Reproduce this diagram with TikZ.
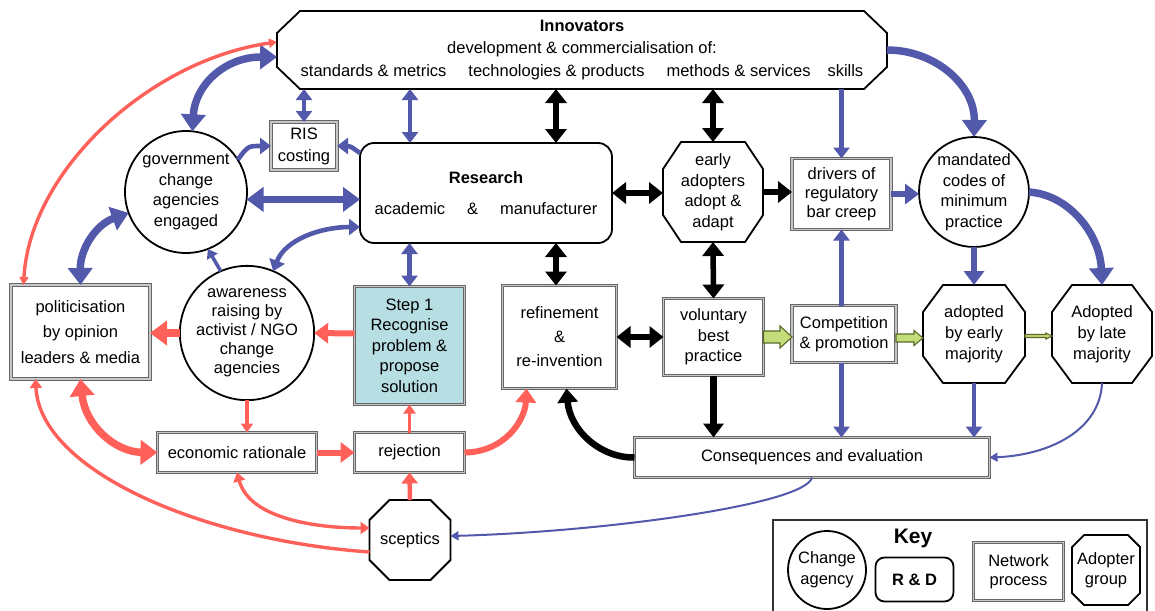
\documentclass[tikz,border=0pt]{standalone}
\usepackage{fontspec}
\setmainfont{Liberation Sans}
\usetikzlibrary{arrows.meta,calc}
\definecolor{myblue}{RGB}{82,88,170}
\definecolor{myred}{RGB}{255,96,90}
\definecolor{gfill}{RGB}{197,220,122}
\definecolor{gline}{RGB}{90,105,40}
\definecolor{stepfill}{RGB}{183,223,227}
\newcommand\octoutline[3]{%
  \draw[octline] ([xshift=#2]#1.north west) -- ([xshift=-#2]#1.north east) -- ([yshift=-#3]#1.north east) -- ([yshift=#3]#1.south east) -- ([xshift=-#2]#1.south east) -- ([xshift=#2]#1.south west) -- ([yshift=#3]#1.south west) -- ([yshift=-#3]#1.north west) -- cycle;}
\newcommand\blockarr[5]{%
  \draw[garrow] let \p1=#1, \p2=#2 in (\x1,{\y1+#3}) -- ({\x2-#5},{\y1+#3}) -- ({\x2-#5},{\y1+#4}) -- (\x2,\y1) -- ({\x2-#5},{\y1-#4}) -- ({\x2-#5},{\y1-#3}) -- (\x1,{\y1-#3}) -- cycle;}
\tikzset{
  TA/.tip={Triangle[length=17pt,width=24pt]},
  TB/.tip={Triangle[length=14pt,width=20pt]},
  TK/.tip={Triangle[length=14pt,width=21pt]},
  TC/.tip={Triangle[length=11pt,width=16pt]},
  TD/.tip={Triangle[length=9pt,width=12pt]},
  TE/.tip={Triangle[length=8pt,width=9pt]},
  base/.style={font=\fontsize{16.5}{20.5}\selectfont, align=center, inner sep=0pt, outer sep=0pt},
  netbox/.style={base, rectangle, draw=black!60, double=black!22, double distance=1.5pt, line width=1.1pt, fill=white},
  agency/.style={base, circle, draw=black, line width=1.8pt, fill=white},
  rdbox/.style={base, rectangle, rounded corners=14pt, draw=black, line width=1.8pt, fill=white},
  octline/.style={draw=black, line width=1.8pt, line join=miter},
  garrow/.style={draw=gline, fill=gfill, line width=1.1pt, line join=miter},
  bl8/.style={myblue, line width=7.5pt},
  bl6/.style={myblue, line width=6pt},
  bl4/.style={myblue, line width=4.6pt},
  bl3/.style={myblue, line width=3.5pt},
  bl2/.style={myblue, line width=2pt},
  bk5/.style={black, line width=5.5pt},
  bk7/.style={black, line width=6.5pt},
  rd8/.style={myred, line width=7.5pt},
  rd6/.style={myred, line width=6pt},
  rd4/.style={myred, line width=4.5pt},
  rd3/.style={myred, line width=3.4pt},
}
\begin{document}
\begin{tikzpicture}[x=1pt,y=-1pt]
\useasboundingbox (0,0) rectangle (1155,610);

% ---------- nodes ----------
\node[base, font=\fontsize{16.5}{22.5}\selectfont, minimum width=610pt, minimum height=78pt] (innov) at (582,50)
  {{\bfseries Innovators}\\ development \& commercialisation of:\\ standards \& metrics\hspace{22pt}technologies \& products\hspace{22pt}methods \& services\hspace{17pt}skills};
\octoutline{innov}{23pt}{22pt}

\node[rdbox, minimum width=252pt, minimum height=100pt] (research) at (486,193)
  {{\bfseries Research}\\[10pt] academic\hspace{22pt}\&\hspace{22pt}manufacturer};

\node[netbox, minimum width=66pt, minimum height=48pt, font=\fontsize{16.5}{22}\selectfont] (ris) at (304,146) {RIS\\costing};

\node[agency, minimum size=122pt] (gov) at (186,192) {government\\change\\agencies\\engaged};
\node[agency, minimum size=126pt, font=\fontsize{16.5}{19}\selectfont] (aware) at (247,333) {awareness\\raising by\\activist / NGO\\change\\agencies};

\node[netbox, minimum width=139pt, minimum height=94pt, font=\fontsize{16.5}{25.5}\selectfont] (polit) at (80.5,332)
  {politicisation\\by opinion\\leaders \& media};

\node[netbox, fill=stepfill, minimum width=110pt, minimum height=118pt] (step1) at (409.5,345.5)
  {Step 1\\Recognise\\problem \&\\propose\\solution};

\node[netbox, minimum width=114pt, minimum height=103pt, font=\fontsize{16.5}{24}\selectfont] (refine) at (559.5,337)
  {refinement\\\&\\re-invention};

\node[netbox, minimum width=100pt, minimum height=77pt] (vol) at (713.5,337) {voluntary\\best\\practice};

\node[base, minimum width=100pt, minimum height=100pt] (early) at (713,192) {early\\adopters\\adopt \&\\adapt};
\octoutline{early}{18pt}{27pt}

\node[netbox, minimum width=99pt, minimum height=71pt, font=\fontsize{16.5}{19}\selectfont] (drivers) at (841.5,194)
  {drivers of\\regulatory\\bar creep};

\node[agency, minimum size=110pt] (mandated) at (974,192) {mandated\\codes of\\minimum\\practice};

\node[netbox, minimum width=104pt, minimum height=57pt] (compet) at (844,334) {Competition\\\& promotion};

\node[base, minimum width=102pt, minimum height=98pt, font=\fontsize{16.5}{21}\selectfont] (adoptE) at (974,334) {adopted\\by early\\majority};
\octoutline{adoptE}{20pt}{27pt}

\node[base, minimum width=100pt, minimum height=98pt, font=\fontsize{16.5}{21}\selectfont] (adoptL) at (1102,334) {Adopted\\by late\\majority};
\octoutline{adoptL}{20pt}{27pt}

\node[netbox, minimum width=355pt, minimum height=40pt] (conseq) at (812,457.5) {Consequences and evaluation};
\node[netbox, minimum width=159pt, minimum height=40pt] (econ) at (237,452.5) {economic rationale};
\node[netbox, minimum width=110pt, minimum height=40pt] (reject) at (409.5,452.5) {rejection};

\node[base, minimum width=81pt, minimum height=80pt] (scept) at (410,540) {sceptics};
\octoutline{scept}{20pt}{20pt}

% ---------- key ----------
\node[draw=black!80, line width=1.2pt, minimum width=374pt, minimum height=95pt, inner sep=0pt] (keybox) at (960,567.5) {};
\node[agency, minimum size=78pt, font=\fontsize{16.5}{21}\selectfont] (keyc) at (827,570) {Change\\agency};
\node[base, font=\fontsize{21}{24}\selectfont\bfseries] (keyt) at (913,538) {Key};
\node[rdbox, rounded corners=9pt, minimum width=78pt, minimum height=44pt] (keyrd) at (914.5,579.5) {\bfseries R \& D};
\node[netbox, minimum width=90pt, minimum height=58pt, font=\fontsize{16.5}{19}\selectfont] (keynet) at (1018.5,571.5) {Network\\process};
\node[base, minimum width=68pt, minimum height=70pt] (keyad) at (1106,570) {Adopter\\group};
\octoutline{keyad}{12pt}{12pt}

% ---------- helper coordinates ----------
\coordinate (rA) at ([xshift=-76pt]research.north);
\coordinate (rB) at ([xshift=70pt]research.north);
\coordinate (rC) at ([xshift=70pt]research.south);

% ---------- blue connectors ----------
\draw[bl8, TA-TA] (gov.84) .. controls (195,85) and (225,57) .. ([yshift=-7pt]innov.west);
\draw[bl4, TC-TC] (ris.north) -- (ris.north |- innov.south);
\draw[bl4, -TC] (gov.32) .. controls (248,146) .. (ris.west);
\draw[bl4, -TC] ([yshift=40pt]research.west) .. controls (350,146) .. (ris.east);
\draw[bl8, TA-TA] (gov.-7) -- (gov.-7 -| research.west);
\draw[bl3, -TD] (aware.113) -- (gov.-69);
\draw[bl4, TC-TC] (aware.67) .. controls (285,240) and (320,227) .. ([yshift=-34pt]research.west);
\draw[bl8, TA-TA] (gov.200) .. controls (95,225) and (80,250) .. (polit.north);
\draw[bl4, TC-TC] (rA) -- (rA |- innov.south);
\draw[bl4, TC-TC] (step1.north) -- (step1.north |- research.south);
\draw[bl4, -TC] (drivers.north |- innov.south) -- (drivers.north);
\draw[bl8, -TA] (innov.east) .. controls (935,50) and (975,85) .. (mandated.north);
\draw[bl6, -TB] (drivers.east) -- (drivers.east -| mandated.west);
\draw[bl6, -TB] (mandated.south) -- (adoptE.north);
\draw[bl8, -TA] (mandated.east) .. controls (1070,195) and (1100,235) .. (adoptL.north);
\draw[bl4, -TC] (drivers.south |- compet.north) -- (drivers.south);
\draw[bl4, -TC] (drivers.south |- compet.south) -- (drivers.south |- conseq.north);
\draw[bl4, -TC] (adoptE.south) -- (adoptE.south |- conseq.north);
\draw[bl2, -TE] (adoptL.south) .. controls (1100,430) and (1050,455) .. (conseq.east);
\draw[bl2, -TE] (conseq.south) .. controls (805,505) and (600,532) .. ([yshift=4pt]scept.east);

% ---------- black connectors ----------
\draw[bk5, TK-TK] (rB) -- (rB |- innov.south);
\draw[bk5, TK-TK] (rC) -- (rC |- refine.north);
\draw[bk5, TK-TK] (early.north) -- (early.north |- innov.south);
\draw[bk5, TK-TK] (research.east) -- (research.east -| early.west);
\draw[bk5, -TK] (early.east) -- (early.east -| drivers.west);
\draw[bk5, TK-TK] (early.south) -- (vol.north);
\draw[bk5, TK-TK] (refine.east) -- (refine.east -| vol.west);
\draw[bk7, -TB] (vol.south) -- (vol.south |- conseq.north);
\draw[bk7, -TB] (conseq.west) .. controls (600,458) and (570,430) .. ([xshift=7pt]refine.south);

% ---------- red connectors ----------
\draw[rd3, TE-TE] ([xshift=-57pt]polit.north) .. controls (30,170) and (150,60) .. ([yshift=8pt]innov.west);
\draw[rd8, -TA] (aware.west) -- (aware.west -| polit.east);
\draw[rd6, -TB] ([yshift=12pt]step1.west) -- (aware.east);
\draw[rd3, -TD] (aware.south) -- (aware.south |- econ.north);
\draw[rd8, TA-TA] (polit.south) .. controls (85,425) and (115,452) .. (econ.west);
\draw[rd3, -TD] ([yshift=-12pt]scept.west) .. controls (200,540) and (40,470) .. ([xshift=-45pt]polit.south);
\draw[rd3, TD-TD] (econ.south) .. controls (250,520) and (320,528) .. ([yshift=12pt]scept.west);
\draw[rd6, -TB] (econ.east) -- (reject.west);
\draw[rd3, -TD] (reject.north) -- (step1.south);
\draw[rd4, -TC] (scept.north) -- (reject.south);
\draw[rd6, -TB] (reject.east) .. controls (505,452) and (525,420) .. ([xshift=-33pt]refine.south);

% ---------- green block arrows ----------
\blockarr{(vol.east)}{(compet.west)}{6pt}{11pt}{12pt}
\blockarr{([yshift=-4pt]compet.east)}{(adoptE.west)}{4pt}{7.5pt}{9pt}
\blockarr{([yshift=-2pt]adoptE.east)}{(adoptL.west)}{1.5pt}{3pt}{6pt}
\end{tikzpicture}
\end{document}
